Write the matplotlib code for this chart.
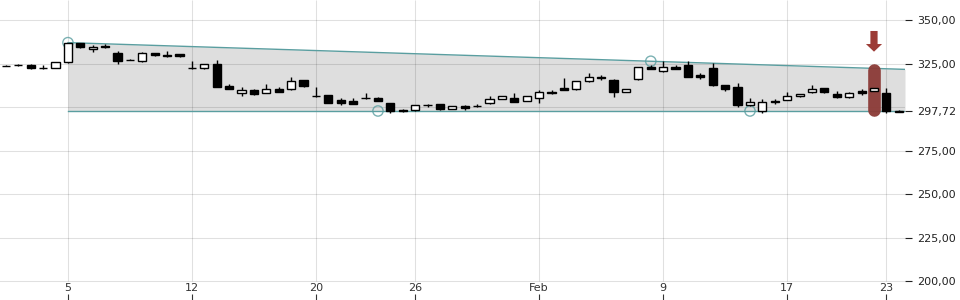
import numpy as np
import matplotlib
matplotlib.use("Agg")
import matplotlib.pyplot as plt

# --- DATA ---
opens = [323.8, 324.2, 324.1, 322.3, 322.3, 325.7, 336.6, 333.2, 335.2, 331.2,
         327.1, 326.3, 330.8, 330.0, 330.4, 322.4, 322.2, 324.7, 312.0, 308.3,
         309.6, 308.2, 310.3, 310.1, 315.5, 306.5, 306.7, 303.8, 303.4, 305.1,
         305.2, 302.1, 298.5, 298.1, 300.9, 301.7, 299.0, 300.4, 300.3, 302.1,
         304.8, 305.2, 303.6, 305.0, 308.8, 311.2, 310.1, 314.8, 317.2, 315.5,
         308.8, 315.9, 322.8, 320.5, 322.8, 324.1, 318.6, 322.4, 312.5, 311.3,
         301.0, 297.9, 303.6, 304.0, 306.1, 308.4, 310.7, 307.3, 305.6, 309.4,
         309.4, 308.0, 297.4]
highs = [324.1, 324.8, 324.5, 324.1, 325.8, 337.0, 336.8, 335.8, 336.2, 332.4,
         327.8, 331.5, 331.0, 332.0, 330.6, 326.3, 324.9, 327.0, 313.2, 311.7,
         310.2, 313.2, 311.3, 317.1, 315.7, 311.3, 306.9, 305.3, 305.2, 308.2,
         305.9, 302.3, 299.0, 301.2, 301.7, 301.9, 300.6, 301.3, 301.9, 306.3,
         306.6, 308.2, 306.3, 309.8, 309.5, 316.5, 315.1, 319.4, 318.6, 316.1,
         310.3, 323.2, 324.1, 326.3, 324.1, 326.3, 319.7, 325.1, 312.8, 313.6,
         305.0, 304.4, 304.4, 308.6, 307.5, 312.5, 310.9, 309.0, 308.6, 310.5,
         310.9, 310.7, 298.3]
lows = [323.4, 323.8, 322.0, 322.0, 322.2, 325.5, 334.1, 331.6, 334.2, 324.9,
        326.8, 326.1, 329.5, 329.0, 329.0, 322.0, 322.0, 311.5, 310.4, 306.5,
        307.1, 308.0, 308.6, 309.9, 311.3, 306.0, 302.3, 301.3, 301.7, 304.7,
        303.4, 296.7, 297.4, 297.9, 300.2, 298.3, 298.8, 298.3, 299.8, 301.9,
        304.5, 302.9, 303.4, 302.1, 307.7, 309.5, 309.8, 314.6, 315.5, 306.0,
        308.6, 315.7, 321.8, 320.3, 321.8, 317.2, 315.9, 312.3, 309.4, 300.2,
        300.8, 296.7, 301.7, 303.8, 305.9, 307.9, 308.2, 305.4, 305.4, 307.1,
        309.2, 296.4, 296.9]
closes = [323.6, 324.4, 322.3, 322.2, 325.6, 336.6, 334.3, 334.7, 334.4, 326.6,
          326.9, 330.8, 329.7, 329.2, 329.2, 322.2, 324.7, 311.7, 310.6, 309.8,
          307.3, 310.1, 308.8, 315.1, 312.3, 306.2, 302.5, 302.5, 301.9, 304.9,
          303.6, 297.7, 297.6, 301.0, 301.1, 299.0, 300.4, 299.4, 300.5, 304.6,
          306.1, 303.1, 306.1, 308.6, 307.9, 309.7, 314.9, 317.1, 316.4, 308.8,
          310.1, 322.8, 322.0, 322.8, 322.0, 317.4, 317.5, 312.5, 310.5, 301.1,
          303.0, 303.1, 302.7, 306.1, 307.3, 310.1, 308.4, 305.6, 307.9, 308.3,
          310.7, 297.5, 297.7]

tick_idx = [5, 15, 25, 33, 43, 53, 63, 71]
tick_labels = ["5", "12", "20", "26", "Feb", "9", "17", "23"]

# channel: resistance through two pivots, flat support
res_idx = [5, 52]
res_val = [337.0, 326.3]
sup_idx = [30, 60]
sup_val = 297.72
highlight_idx = 70

y_grid = [200, 225, 250, 275, 300, 325, 350]
y_ticks = [200, 225, 250, 275, 297.72, 325, 350]

# --- PLOT ---
fig = plt.figure(figsize=(9.6, 3.0), dpi=100)
ax = fig.add_axes([0, 0, 905 / 960, 1])
x0, x1 = -0.48, 72.5
ax.set_xlim(x0, x1)
ax.set_ylim(189.1, 361.5)

teal = "#5a9ea0"
slope = (res_val[1] - res_val[0]) / (res_idx[1] - res_idx[0])
rx = np.array([res_idx[0], x1])
ry = res_val[0] + slope * (rx - res_idx[0])
ax.fill_between(rx, [sup_val, sup_val], ry, color="#dedede", zorder=1, lw=0)
ax.plot(rx, ry, color=teal, lw=1, zorder=3)
ax.plot(rx, [sup_val, sup_val], color=teal, lw=1, zorder=3)

# grid
for g in y_grid:
    ax.axhline(g, color="black", alpha=0.12, lw=0.75, zorder=2)
ax.vlines(tick_idx, 200, 361.5, color="black", alpha=0.12, lw=0.75, zorder=2)

# pivot circles
ax.scatter(res_idx, res_val, s=55, facecolors="none", edgecolors=teal, lw=1, alpha=0.8, zorder=4)
ax.scatter(sup_idx, [sup_val] * 2, s=55, facecolors="none", edgecolors=teal, lw=1, alpha=0.8, zorder=4)

# highlight + arrow
ax.plot([highlight_idx, highlight_idx], [321.4, 298.4], color="#8b3a36", lw=9.1,
        solid_capstyle="round", alpha=0.95, zorder=4)
ax.arrow(highlight_idx, 343.7, 0, -11.9, width=0.58, head_width=1.3, head_length=4.4,
         length_includes_head=True, color="#9c3b35", lw=0, zorder=6)

# candles
idx = np.arange(len(opens))
o, h, l, c = map(np.array, (opens, highs, lows, closes))
up = c >= o
ax.vlines(idx, l, h, color="black", lw=1, zorder=5)
bottoms = np.minimum(o, c)
heights = np.maximum(np.abs(c - o), 0.05)
ax.bar(idx, heights, bottom=bottoms, width=0.66,
       color=np.where(up, "white", "black"), edgecolor="black", lw=1, zorder=5)

# axes styling
for s in ax.spines.values():
    s.set_visible(False)
ax.set_xticks(tick_idx)
ax.set_xticklabels(tick_labels)
ax.tick_params(axis="x", direction="in", length=4, pad=-12, labelsize=8,
               colors="#333333")
ax.yaxis.tick_right()
ax.set_yticks(y_ticks)
ax.set_yticklabels([f"{v:.2f}".replace(".", ",") for v in y_ticks])
ax.tick_params(axis="y", direction="out", length=5, pad=4, labelsize=8,
               colors="#222222")
ax.patch.set_visible(False)

fig.savefig("out.png", dpi=100)
